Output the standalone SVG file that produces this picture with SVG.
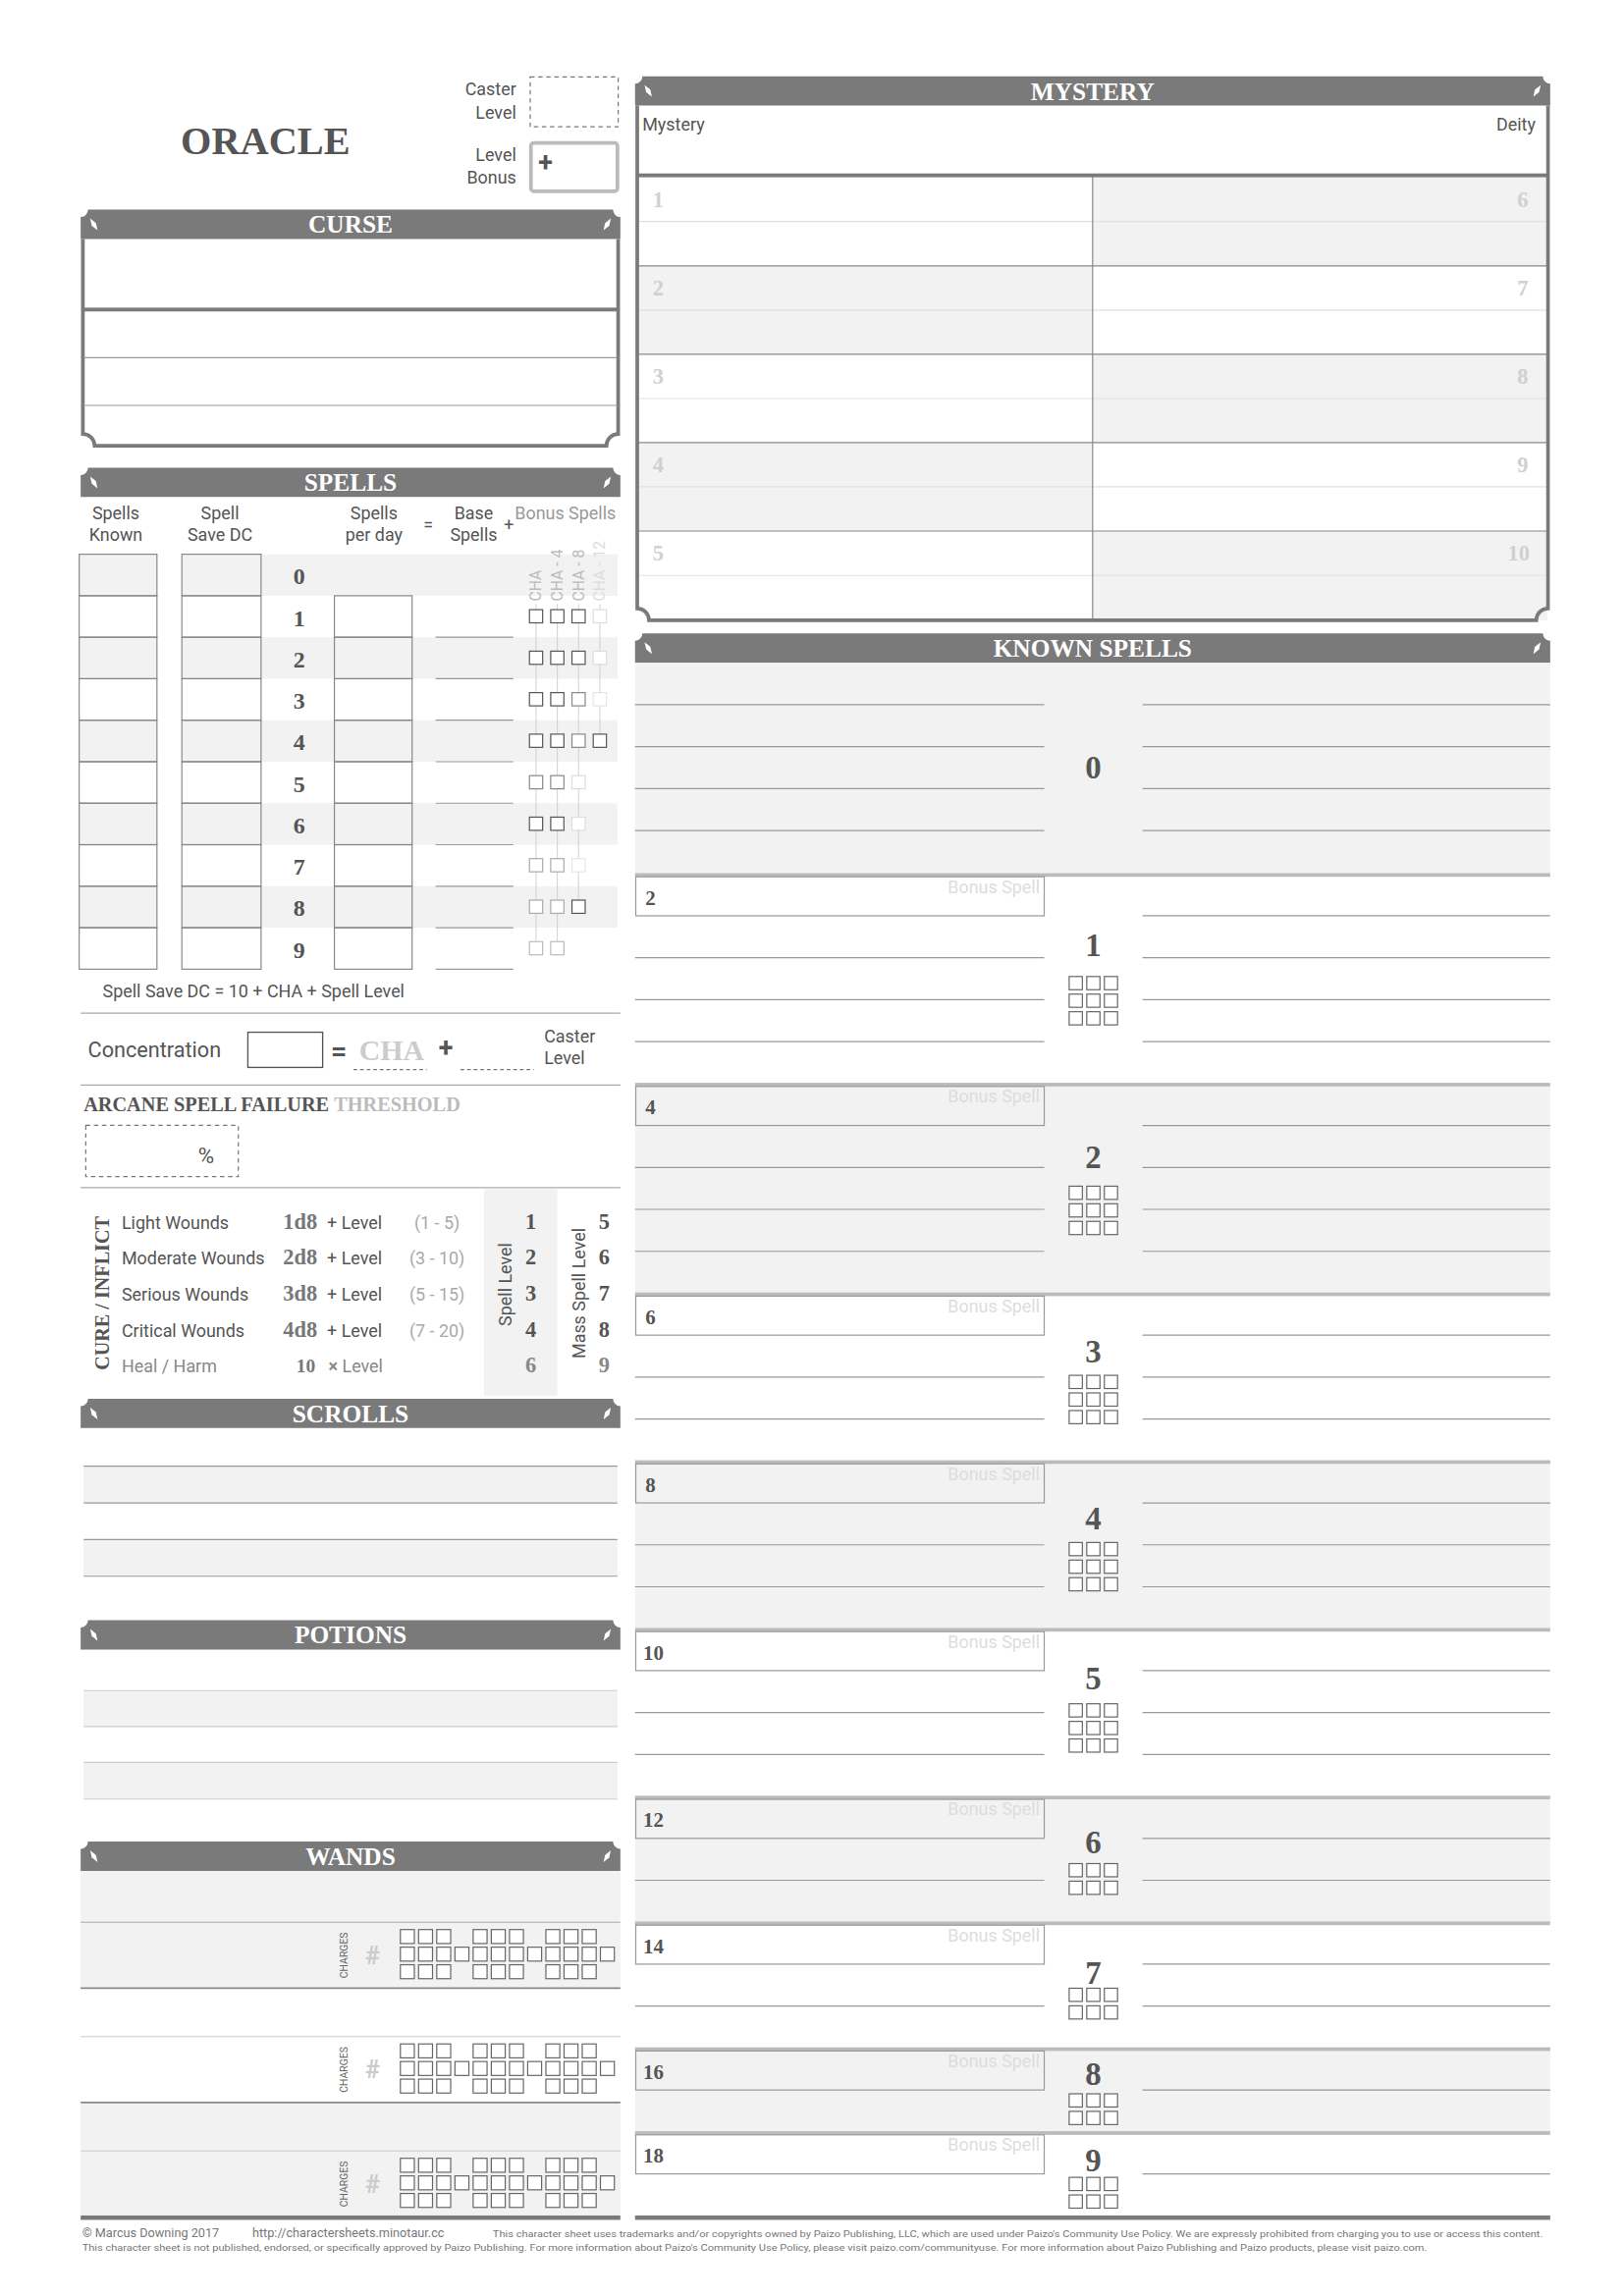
<svg xmlns="http://www.w3.org/2000/svg" width="1654" height="2339" viewBox="0 0 1654 2339">
<style>
.band{fill:#7a7a7a}
.ht{font-family:"Liberation Serif","DejaVu Serif",serif;font-weight:bold;font-size:17px;fill:#fff;text-anchor:middle}
.s{font-family:Roboto,"Liberation Sans",sans-serif;font-size:12px;fill:#555}
.sr{font-family:"Liberation Serif","DejaVu Serif",serif;font-weight:bold;fill:#555}
.g{fill:#f2f2f2}
.ln{stroke:#999;stroke-width:0.8;fill:none}
.lnl{stroke:#ccc;stroke-width:0.8;fill:none}
.cell{fill:none;stroke:#888;stroke-width:0.8}
.bx{fill:#fff;stroke:#666;stroke-width:0.8}
.frame{fill:none;stroke:#7a7a7a;stroke-width:2.5}
.mid{text-anchor:middle}
.end{text-anchor:end}
.sep{fill:#bbb}
.num{font-size:22px;text-anchor:middle}
.lbl{font-size:14px}
.bs{font-family:Roboto,"Liberation Sans",sans-serif;font-size:12px;fill:#ddd;text-anchor:end}
.mn{font-family:"Liberation Serif","DejaVu Serif",serif;font-weight:bold;font-size:15px;fill:#d0d0d0}
</style>
<defs>
<path id="orn" d="M-2.5,-4 L1.4,-0.9 L2.5,4 L-1.4,0.9 Z" fill="#fff"/>
<g id="r3"><rect class="bx" x="0" y="0" width="9" height="9"/><rect class="bx" x="12" y="0" width="9" height="9"/><rect class="bx" x="24" y="0" width="9" height="9"/></g>
<g id="g33"><use href="#r3" y="0"/><use href="#r3" y="12"/><use href="#r3" y="24"/></g>
<g id="g32"><use href="#r3" y="0"/><use href="#r3" y="12"/></g>
<g id="ct"><rect class="bx" x="0" y="0" width="9.5" height="9.5"/><rect class="bx" x="12.4" y="0" width="9.5" height="9.5"/><rect class="bx" x="24.8" y="0" width="9.5" height="9.5"/><rect class="bx" x="49.6" y="0" width="9.5" height="9.5"/><rect class="bx" x="62" y="0" width="9.5" height="9.5"/><rect class="bx" x="74.4" y="0" width="9.5" height="9.5"/><rect class="bx" x="99.2" y="0" width="9.5" height="9.5"/><rect class="bx" x="111.6" y="0" width="9.5" height="9.5"/><rect class="bx" x="124" y="0" width="9.5" height="9.5"/></g>
<g id="charges"><use href="#ct" y="0"/><g transform="translate(0,12)"><rect class="bx" x="0" y="0" width="9.5" height="9.5"/><rect class="bx" x="12.4" y="0" width="9.5" height="9.5"/><rect class="bx" x="24.8" y="0" width="9.5" height="9.5"/><rect class="bx" x="37.2" y="0" width="9.5" height="9.5"/><rect class="bx" x="49.6" y="0" width="9.5" height="9.5"/><rect class="bx" x="62" y="0" width="9.5" height="9.5"/><rect class="bx" x="74.4" y="0" width="9.5" height="9.5"/><rect class="bx" x="86.8" y="0" width="9.5" height="9.5"/><rect class="bx" x="99.2" y="0" width="9.5" height="9.5"/><rect class="bx" x="111.6" y="0" width="9.5" height="9.5"/><rect class="bx" x="124" y="0" width="9.5" height="9.5"/><rect class="bx" x="136.4" y="0" width="9.5" height="9.5"/></g><use href="#ct" y="24"/></g>
</defs>
<rect x="0" y="0" width="1654" height="2339" fill="#fff"/>
<g transform="scale(1.4937)">

<g id="header">
<text class="sr mid" x="181" y="105" font-size="27" fill="#666">ORACLE</text>
<text class="s end" x="352" y="65">Caster</text>
<text class="s end" x="352" y="81">Level</text>
<rect x="361.5" y="52.5" width="60" height="34" fill="none" stroke="#777" stroke-width="0.8" stroke-dasharray="3,2.5"/>
<text class="s end" x="352" y="110">Level</text>
<text class="s end" x="352" y="125">Bonus</text>
<rect x="362" y="97.5" width="59" height="33" rx="2" fill="#fff" stroke="#bbb" stroke-width="2.5"/>
<text x="372" y="117" font-family="Roboto,sans-serif" font-weight="bold" font-size="18" fill="#555" text-anchor="middle">+</text>
</g>

<g id="curse">
<path class="band" d="M55,148 A5,5 0 0 0 60,143 L418,143 A5,5 0 0 0 423,148 L423,163 L55,163 Z"/>
<use href="#orn" x="64" y="153"/><use href="#orn" transform="translate(414,153) scale(-1,1)"/>
<text class="ht" x="239" y="159">CURSE</text>
<path class="frame" d="M56.5,163 L56.5,296 A8,8 0 0 1 64.5,304 L413.5,304 A8,8 0 0 1 421.5,296 L421.5,163"/>
<rect x="56" y="209.8" width="366" height="2.6" fill="#7a7a7a"/>
<line class="ln" x1="57" y1="244" x2="421" y2="244"/>
<line class="ln" x1="57" y1="276.5" x2="421" y2="276.5"/>
</g>

<g id="spells">
<path class="band" d="M55,324 A5,5 0 0 0 60,319 L418,319 A5,5 0 0 0 423,324 L423,339 L55,339 Z"/>
<use href="#orn" x="64" y="329"/><use href="#orn" transform="translate(414,329) scale(-1,1)"/>
<text class="ht" x="239" y="335">SPELLS</text>
<text class="s mid" x="79" y="354">Spells</text><text class="s mid" x="79" y="369">Known</text>
<text class="s mid" x="150" y="354">Spell</text><text class="s mid" x="150" y="369">Save DC</text>
<text class="s mid" x="255" y="354">Spells</text><text class="s mid" x="255" y="369">per day</text>
<text class="s mid" x="292" y="362">=</text>
<text class="s mid" x="323" y="354">Base</text><text class="s mid" x="323" y="369">Spells</text>
<text class="s mid" x="347" y="362">+</text>
<text class="s" x="351" y="354" style="fill:#999">Bonus Spells</text>
<g id="spell-fills">
<rect class="g" x="54" y="378" width="53" height="28.3"/><rect class="g" x="124" y="378" width="54" height="28.3"/><rect class="g" x="178" y="378" width="243" height="28.3"/>
<rect class="g" x="54" y="434.6" width="53" height="28.3"/><rect class="g" x="124" y="434.6" width="54" height="28.3"/><rect class="g" x="178" y="434.6" width="243" height="28.3"/>
<rect class="g" x="54" y="491.2" width="53" height="28.3"/><rect class="g" x="124" y="491.2" width="54" height="28.3"/><rect class="g" x="178" y="491.2" width="243" height="28.3"/>
<rect class="g" x="54" y="547.8" width="53" height="28.3"/><rect class="g" x="124" y="547.8" width="54" height="28.3"/><rect class="g" x="178" y="547.8" width="243" height="28.3"/>
<rect class="g" x="54" y="604.4" width="53" height="28.3"/><rect class="g" x="124" y="604.4" width="54" height="28.3"/><rect class="g" x="178" y="604.4" width="243" height="28.3"/>
</g>
<g id="spell-cells">
<rect class="cell" x="54" y="378" width="53" height="28.3"/><rect class="cell" x="124" y="378" width="54" height="28.3"/>
<rect class="cell" x="54" y="406.3" width="53" height="28.3"/><rect class="cell" x="124" y="406.3" width="54" height="28.3"/><rect class="cell" x="228" y="406.3" width="53" height="28.3"/>
<rect class="cell" x="54" y="434.6" width="53" height="28.3"/><rect class="cell" x="124" y="434.6" width="54" height="28.3"/><rect class="cell" x="228" y="434.6" width="53" height="28.3"/>
<rect class="cell" x="54" y="462.9" width="53" height="28.3"/><rect class="cell" x="124" y="462.9" width="54" height="28.3"/><rect class="cell" x="228" y="462.9" width="53" height="28.3"/>
<rect class="cell" x="54" y="491.2" width="53" height="28.3"/><rect class="cell" x="124" y="491.2" width="54" height="28.3"/><rect class="cell" x="228" y="491.2" width="53" height="28.3"/>
<rect class="cell" x="54" y="519.5" width="53" height="28.3"/><rect class="cell" x="124" y="519.5" width="54" height="28.3"/><rect class="cell" x="228" y="519.5" width="53" height="28.3"/>
<rect class="cell" x="54" y="547.8" width="53" height="28.3"/><rect class="cell" x="124" y="547.8" width="54" height="28.3"/><rect class="cell" x="228" y="547.8" width="53" height="28.3"/>
<rect class="cell" x="54" y="576.1" width="53" height="28.3"/><rect class="cell" x="124" y="576.1" width="54" height="28.3"/><rect class="cell" x="228" y="576.1" width="53" height="28.3"/>
<rect class="cell" x="54" y="604.4" width="53" height="28.3"/><rect class="cell" x="124" y="604.4" width="54" height="28.3"/><rect class="cell" x="228" y="604.4" width="53" height="28.3"/>
<rect class="cell" x="54" y="632.7" width="53" height="28.3"/><rect class="cell" x="124" y="632.7" width="54" height="28.3"/><rect class="cell" x="228" y="632.7" width="53" height="28.3"/>
</g>
<g id="base-lines" class="ln">
<line x1="297" y1="434.6" x2="350" y2="434.6"/><line x1="297" y1="462.9" x2="350" y2="462.9"/><line x1="297" y1="491.2" x2="350" y2="491.2"/><line x1="297" y1="519.5" x2="350" y2="519.5"/><line x1="297" y1="547.8" x2="350" y2="547.8"/><line x1="297" y1="576.1" x2="350" y2="576.1"/><line x1="297" y1="604.4" x2="350" y2="604.4"/><line x1="297" y1="632.7" x2="350" y2="632.7"/><line x1="297" y1="661" x2="350" y2="661"/>
</g>
<g id="row-numbers" class="sr" font-size="16" text-anchor="middle">
<text x="204" y="398.5">0</text><text x="204" y="426.8">1</text><text x="204" y="455.1">2</text><text x="204" y="483.4">3</text><text x="204" y="511.7">4</text><text x="204" y="540">5</text><text x="204" y="568.3">6</text><text x="204" y="596.6">7</text><text x="204" y="624.9">8</text><text x="204" y="653.2">9</text>
</g>
<g id="bonus-cols">
<g font-family="Roboto,'Liberation Sans',sans-serif" font-size="10.5" fill="#bbb">
<text x="369.2" y="410" transform="rotate(-90 369.2 410)">CHA</text>
<text x="383.7" y="410" transform="rotate(-90 383.7 410)">CHA - 4</text>
<text x="398.2" y="410" transform="rotate(-90 398.2 410)">CHA - 8</text>
<text x="412.7" y="410" transform="rotate(-90 412.7 410)" fill="#ddd">CHA - 12</text>
</g>
<g stroke="#ccc" stroke-width="0.6">
<line x1="365.5" y1="412" x2="365.5" y2="651"/><line x1="380" y1="412" x2="380" y2="651"/><line x1="394.5" y1="412" x2="394.5" y2="623"/><line x1="409" y1="412" x2="409" y2="510"/>
</g>
<g fill="#fff" stroke-width="0.8">
<rect x="361" y="415.8" width="9" height="9" stroke="#555"/><rect x="375.5" y="415.8" width="9" height="9" stroke="#555"/><rect x="390" y="415.8" width="9" height="9" stroke="#555"/><rect x="404.5" y="415.8" width="9" height="9" stroke="#ddd"/>
<rect x="361" y="444.1" width="9" height="9" stroke="#555"/><rect x="375.5" y="444.1" width="9" height="9" stroke="#555"/><rect x="390" y="444.1" width="9" height="9" stroke="#555"/><rect x="404.5" y="444.1" width="9" height="9" stroke="#ddd"/>
<rect x="361" y="472.4" width="9" height="9" stroke="#555"/><rect x="375.5" y="472.4" width="9" height="9" stroke="#555"/><rect x="390" y="472.4" width="9" height="9" stroke="#888"/><rect x="404.5" y="472.4" width="9" height="9" stroke="#e6e6e6"/>
<rect x="361" y="500.7" width="9" height="9" stroke="#555"/><rect x="375.5" y="500.7" width="9" height="9" stroke="#555"/><rect x="390" y="500.7" width="9" height="9" stroke="#888"/><rect x="404.5" y="500.7" width="9" height="9" stroke="#555"/>
<rect x="361" y="529" width="9" height="9" stroke="#888"/><rect x="375.5" y="529" width="9" height="9" stroke="#888"/><rect x="390" y="529" width="9" height="9" stroke="#ddd"/>
<rect x="361" y="557.3" width="9" height="9" stroke="#555"/><rect x="375.5" y="557.3" width="9" height="9" stroke="#555"/><rect x="390" y="557.3" width="9" height="9" stroke="#ddd"/>
<rect x="361" y="585.6" width="9" height="9" stroke="#aaa"/><rect x="375.5" y="585.6" width="9" height="9" stroke="#aaa"/><rect x="390" y="585.6" width="9" height="9" stroke="#e6e6e6"/>
<rect x="361" y="613.9" width="9" height="9" stroke="#aaa"/><rect x="375.5" y="613.9" width="9" height="9" stroke="#aaa"/><rect x="390" y="613.9" width="9" height="9" stroke="#555"/>
<rect x="361" y="642.2" width="9" height="9" stroke="#bbb"/><rect x="375.5" y="642.2" width="9" height="9" stroke="#bbb"/>
</g>
</g>
<text class="s" x="70" y="680">Spell Save DC = 10 + CHA + Spell Level</text>
<line x1="55" y1="691" x2="423" y2="691" stroke="#aaa" stroke-width="0.8"/>
</g>

<g id="concentration">
<text class="s" x="60" y="721" style="font-size:14.5px">Concentration</text>
<rect x="169" y="704" width="51" height="24" fill="#fff" stroke="#555" stroke-width="0.9"/>
<text x="231" y="723" font-family="Roboto,sans-serif" font-weight="bold" font-size="19" fill="#555" text-anchor="middle">=</text>
<text class="sr mid" x="267" y="723" font-size="20" style="fill:#ccc">CHA</text>
<line x1="241" y1="729.5" x2="291" y2="729.5" stroke="#777" stroke-width="0.8" stroke-dasharray="2.5,2"/>
<text x="304" y="721" font-family="Roboto,sans-serif" font-weight="bold" font-size="18" fill="#555" text-anchor="middle">+</text>
<line x1="314" y1="729.5" x2="364" y2="729.5" stroke="#777" stroke-width="0.8" stroke-dasharray="2.5,2"/>
<text class="s" x="371" y="711">Caster</text>
<text class="s" x="371" y="726">Level</text>
<line x1="55" y1="740" x2="423" y2="740" stroke="#aaa" stroke-width="0.8"/>
</g>

<g id="asf">
<text class="sr" x="57" y="758" font-size="13.6">ARCANE SPELL FAILURE <tspan style="fill:#bbb">THRESHOLD</tspan></text>
<rect x="58.5" y="767.5" width="104" height="35" fill="none" stroke="#777" stroke-width="0.8" stroke-dasharray="3,2.5"/>
<text class="s end" x="146" y="793" style="font-size:15px">%</text>
<line x1="55" y1="810" x2="423" y2="810" stroke="#aaa" stroke-width="0.8"/>
</g>

<g id="cure">
<rect class="g" x="330" y="811" width="50" height="141"/>
<text class="sr mid" x="74" y="882" font-size="13.5" transform="rotate(-90 74 882)">CURE / INFLICT</text>
<text class="s mid" x="348.5" y="876" transform="rotate(-90 348.5 876)">Spell Level</text>
<text class="s mid" x="399" y="882" transform="rotate(-90 399 882)">Mass Spell Level</text>
<text class="s" x="83" y="838">Light Wounds</text>
<text class="s" x="83" y="862">Moderate Wounds</text>
<text class="s" x="83" y="887">Serious Wounds</text>
<text class="s" x="83" y="912">Critical Wounds</text>
<text class="s" x="83" y="936" style="fill:#888">Heal / Harm</text>
<g class="sr" font-size="15" style="fill:#777">
<text x="193" y="838">1d8</text><text x="193" y="862">2d8</text><text x="193" y="887">3d8</text><text x="193" y="912">4d8</text><text x="202" y="936" font-size="13">10</text>
</g>
<text class="s" x="223" y="838">+ Level</text>
<text class="s" x="223" y="862">+ Level</text>
<text class="s" x="223" y="887">+ Level</text>
<text class="s" x="223" y="912">+ Level</text>
<text class="s" x="224" y="936" style="fill:#888"><tspan font-weight="bold">×</tspan> Level</text>
<g class="s mid" style="fill:#aaa">
<text x="298" y="838">(1 - 5)</text><text x="298" y="862">(3 - 10)</text><text x="298" y="887">(5 - 15)</text><text x="298" y="912">(7 - 20)</text>
</g>
<g class="sr mid" font-size="15">
<text x="362" y="838">1</text><text x="362" y="862">2</text><text x="362" y="887">3</text><text x="362" y="912">4</text><text x="362" y="936" style="fill:#888">6</text>
<text x="412" y="838">5</text><text x="412" y="862">6</text><text x="412" y="887">7</text><text x="412" y="912">8</text><text x="412" y="936" style="fill:#888">9</text>
</g>
</g>

<g id="scrolls">
<path class="band" d="M55,959 A5,5 0 0 0 60,954 L418,954 A5,5 0 0 0 423,959 L423,974 L55,974 Z"/>
<use href="#orn" x="64" y="964"/><use href="#orn" transform="translate(414,964) scale(-1,1)"/>
<text class="ht" x="239" y="970">SCROLLS</text>
<rect class="g" x="57" y="1000" width="364" height="25"/>
<rect class="g" x="57" y="1050" width="364" height="25"/>
<g class="ln"><line x1="57" y1="1000" x2="421" y2="1000"/><line x1="57" y1="1025" x2="421" y2="1025"/><line x1="57" y1="1050" x2="421" y2="1050"/><line x1="57" y1="1075" x2="421" y2="1075"/></g>
</g>

<g id="potions">
<path class="band" d="M55,1110 A5,5 0 0 0 60,1105 L418,1105 A5,5 0 0 0 423,1110 L423,1125 L55,1125 Z"/>
<use href="#orn" x="64" y="1115"/><use href="#orn" transform="translate(414,1115) scale(-1,1)"/>
<text class="ht" x="239" y="1121">POTIONS</text>
<rect class="g" x="57" y="1153" width="364" height="24.5"/>
<rect class="g" x="57" y="1202" width="364" height="25"/>
<g class="lnl"><line x1="57" y1="1153" x2="421" y2="1153"/><line x1="57" y1="1177.5" x2="421" y2="1177.5"/><line x1="57" y1="1202" x2="421" y2="1202"/><line x1="57" y1="1227" x2="421" y2="1227"/></g>
</g>

<g id="wands">
<path class="band" d="M55,1261 A5,5 0 0 0 60,1256 L418,1256 A5,5 0 0 0 423,1261 L423,1276 L55,1276 Z"/>
<use href="#orn" x="64" y="1266"/><use href="#orn" transform="translate(414,1266) scale(-1,1)"/>
<text class="ht" x="239" y="1272">WANDS</text>
<rect class="g" x="55" y="1276" width="368" height="80"/>
<rect class="g" x="55" y="1434.5" width="368" height="77"/>
<line x1="55" y1="1311" x2="423" y2="1311" stroke="#aaa" stroke-width="0.8"/>
<line x1="55" y1="1356" x2="423" y2="1356" stroke="#888" stroke-width="1.2"/>
<line x1="55" y1="1389" x2="423" y2="1389" stroke="#ccc" stroke-width="0.8"/>
<line x1="55" y1="1434" x2="423" y2="1434" stroke="#888" stroke-width="1.2"/>
<line x1="55" y1="1467" x2="423" y2="1467" stroke="#ccc" stroke-width="0.8"/>
<g font-family="Roboto,'Liberation Sans',sans-serif" font-size="7" fill="#666" text-anchor="middle">
<text x="237" y="1333.5" transform="rotate(-90 237 1333.5)">CHARGES</text>
<text x="237" y="1411.5" transform="rotate(-90 237 1411.5)">CHARGES</text>
<text x="237" y="1489.5" transform="rotate(-90 237 1489.5)">CHARGES</text>
</g>
<g font-family="Roboto,'Liberation Sans',sans-serif" font-weight="bold" font-size="17" fill="#ccc" text-anchor="middle">
<text x="254" y="1339.5">#</text><text x="254" y="1417.5">#</text><text x="254" y="1495.5">#</text>
</g>
<use href="#charges" x="273" y="1316"/>
<use href="#charges" x="273" y="1394"/>
<use href="#charges" x="273" y="1472"/>
</g>

<g id="mystery">
<path class="band" d="M433,57 A5,5 0 0 0 438,52 L1052,52 A5,5 0 0 0 1057,57 L1057,72 L433,72 Z"/>
<use href="#orn" x="442" y="62"/><use href="#orn" transform="translate(1048,62) scale(-1,1)"/>
<text class="ht" x="745" y="68">MYSTERY</text>
<text class="s" x="438" y="89">Mystery</text>
<text class="s end" x="1047" y="89">Deity</text>
<rect class="g" x="435" y="181.3" width="310" height="60.3"/>
<rect class="g" x="435" y="301.9" width="310" height="60.3"/>
<rect class="g" x="745" y="121" width="310" height="60.3"/>
<rect class="g" x="745" y="241.6" width="310" height="60.3"/>
<rect class="g" x="745" y="362.2" width="310" height="60.8"/>
<g stroke="#e0e0e0" stroke-width="0.8">
<line x1="435" y1="151" x2="1055" y2="151"/><line x1="435" y1="211.5" x2="1055" y2="211.5"/><line x1="435" y1="271.8" x2="1055" y2="271.8"/><line x1="435" y1="332" x2="1055" y2="332"/><line x1="435" y1="392.5" x2="1055" y2="392.5"/>
</g>
<g stroke="#888" stroke-width="0.8">
<line x1="435" y1="181.3" x2="1055" y2="181.3"/><line x1="435" y1="241.6" x2="1055" y2="241.6"/><line x1="435" y1="301.9" x2="1055" y2="301.9"/><line x1="435" y1="362.2" x2="1055" y2="362.2"/>
<line x1="745" y1="120" x2="745" y2="422"/>
</g>
<rect x="434" y="118.3" width="622" height="2.6" fill="#7a7a7a"/>
<path class="frame" d="M434.5,72 L434.5,415 A8,8 0 0 1 442.5,423 L1047.5,423 A8,8 0 0 1 1055.5,415 L1055.5,72"/>
<text class="mn" x="445" y="141">1</text><text class="mn" x="445" y="201.3">2</text><text class="mn" x="445" y="261.6">3</text><text class="mn" x="445" y="321.9">4</text><text class="mn" x="445" y="382.2">5</text>
<g class="mn end"><text x="1042" y="141">6</text><text x="1042" y="201.3">7</text><text x="1042" y="261.6">8</text><text x="1042" y="321.9">9</text><text x="1043" y="382.2">10</text></g>
</g>

<g id="known-spells">
<path class="band" d="M433,437 A5,5 0 0 0 438,432 L1052,432 A5,5 0 0 0 1057,437 L1057,452 L433,452 Z"/>
<use href="#orn" x="442" y="442"/><use href="#orn" transform="translate(1048,442) scale(-1,1)"/>
<text class="ht" x="745" y="448">KNOWN SPELLS</text>
<g id="ks-fills">
<rect class="g" x="433" y="452" width="624" height="144"/>
<rect class="g" x="433" y="739" width="624" height="143"/>
<rect class="g" x="433" y="996.4" width="624" height="114.4"/>
<rect class="g" x="433" y="1225.2" width="624" height="85.8"/>
<rect class="g" x="433" y="1396.8" width="624" height="57.2"/>
</g>
<g id="ks-seps" class="sep">
<rect x="433" y="595.5" width="624" height="2.5"/><rect x="433" y="738.5" width="624" height="2.5"/><rect x="433" y="881.5" width="624" height="2.5"/><rect x="433" y="995.9" width="624" height="2.5"/><rect x="433" y="1110.3" width="624" height="2.5"/><rect x="433" y="1224.7" width="624" height="2.5"/><rect x="433" y="1310.5" width="624" height="2.5"/><rect x="433" y="1396.3" width="624" height="2.5"/><rect x="433" y="1453.5" width="624" height="2.5"/>
</g>
<g id="ks-boxes" stroke="#999" stroke-width="0.8">
<rect x="433.5" y="598" width="278.5" height="26.6" fill="#fff"/>
<rect x="433.5" y="741" width="278.5" height="26.6" fill="#f2f2f2"/>
<rect x="433.5" y="884" width="278.5" height="26.6" fill="#fff"/>
<rect x="433.5" y="998.4" width="278.5" height="26.6" fill="#f2f2f2"/>
<rect x="433.5" y="1112.8" width="278.5" height="26.6" fill="#fff"/>
<rect x="433.5" y="1227.2" width="278.5" height="26.6" fill="#f2f2f2"/>
<rect x="433.5" y="1313" width="278.5" height="26.6" fill="#fff"/>
<rect x="433.5" y="1398.8" width="278.5" height="26.6" fill="#f2f2f2"/>
<rect x="433.5" y="1456" width="278.5" height="26.6" fill="#fff"/>
</g>
<g class="sr lbl">
<text x="440" y="617">2</text><text x="440" y="760">4</text><text x="440" y="903">6</text><text x="440" y="1017.4">8</text><text x="438.5" y="1131.8">10</text><text x="438.5" y="1246.2">12</text><text x="438.5" y="1332">14</text><text x="438.5" y="1417.8">16</text><text x="438.5" y="1475">18</text>
</g>
<g class="bs">
<text x="709" y="609">Bonus Spell</text><text x="709" y="752">Bonus Spell</text><text x="709" y="895">Bonus Spell</text><text x="709" y="1009.4">Bonus Spell</text><text x="709" y="1123.8">Bonus Spell</text><text x="709" y="1238.2">Bonus Spell</text><text x="709" y="1324">Bonus Spell</text><text x="709" y="1409.8">Bonus Spell</text><text x="709" y="1467">Bonus Spell</text>
</g>
<g id="ks-lines" class="ln">
<line x1="433" y1="480.6" x2="712" y2="480.6"/><line x1="433" y1="509.2" x2="712" y2="509.2"/><line x1="433" y1="537.8" x2="712" y2="537.8"/><line x1="433" y1="566.4" x2="712" y2="566.4"/>
<line x1="779" y1="480.6" x2="1057" y2="480.6"/><line x1="779" y1="509.2" x2="1057" y2="509.2"/><line x1="779" y1="537.8" x2="1057" y2="537.8"/><line x1="779" y1="566.4" x2="1057" y2="566.4"/>
<line x1="433" y1="653.2" x2="712" y2="653.2"/><line x1="433" y1="681.8" x2="712" y2="681.8"/><line x1="433" y1="710.4" x2="712" y2="710.4"/>
<line x1="779" y1="624.6" x2="1057" y2="624.6"/><line x1="779" y1="653.2" x2="1057" y2="653.2"/><line x1="779" y1="681.8" x2="1057" y2="681.8"/><line x1="779" y1="710.4" x2="1057" y2="710.4"/>
<line x1="433" y1="796.2" x2="712" y2="796.2"/><line x1="433" y1="824.8" x2="712" y2="824.8"/><line x1="433" y1="853.4" x2="712" y2="853.4"/>
<line x1="779" y1="767.6" x2="1057" y2="767.6"/><line x1="779" y1="796.2" x2="1057" y2="796.2"/><line x1="779" y1="824.8" x2="1057" y2="824.8"/><line x1="779" y1="853.4" x2="1057" y2="853.4"/>
<line x1="433" y1="939.2" x2="712" y2="939.2"/><line x1="433" y1="967.8" x2="712" y2="967.8"/>
<line x1="779" y1="910.6" x2="1057" y2="910.6"/><line x1="779" y1="939.2" x2="1057" y2="939.2"/><line x1="779" y1="967.8" x2="1057" y2="967.8"/>
<line x1="433" y1="1053.6" x2="712" y2="1053.6"/><line x1="433" y1="1082.2" x2="712" y2="1082.2"/>
<line x1="779" y1="1025" x2="1057" y2="1025"/><line x1="779" y1="1053.6" x2="1057" y2="1053.6"/><line x1="779" y1="1082.2" x2="1057" y2="1082.2"/>
<line x1="433" y1="1168" x2="712" y2="1168"/><line x1="433" y1="1196.6" x2="712" y2="1196.6"/>
<line x1="779" y1="1139.4" x2="1057" y2="1139.4"/><line x1="779" y1="1168" x2="1057" y2="1168"/><line x1="779" y1="1196.6" x2="1057" y2="1196.6"/>
<line x1="433" y1="1282.4" x2="712" y2="1282.4"/>
<line x1="779" y1="1253.8" x2="1057" y2="1253.8"/><line x1="779" y1="1282.4" x2="1057" y2="1282.4"/>
<line x1="433" y1="1368.2" x2="712" y2="1368.2"/>
<line x1="779" y1="1339.6" x2="1057" y2="1339.6"/><line x1="779" y1="1368.2" x2="1057" y2="1368.2"/>
<line x1="779" y1="1425.4" x2="1057" y2="1425.4"/>
<line x1="779" y1="1482.6" x2="1057" y2="1482.6"/>
</g>
<g class="sr num">
<text x="745.5" y="531">0</text><text x="745.5" y="652">1</text><text x="745.5" y="797">2</text><text x="745.5" y="929">3</text><text x="745.5" y="1043">4</text><text x="745.5" y="1152">5</text><text x="745.5" y="1264">6</text><text x="745.5" y="1353">7</text><text x="745.5" y="1422">8</text><text x="745.5" y="1481">9</text>
</g>
<use href="#g33" x="729" y="666"/>
<use href="#g33" x="729" y="809"/>
<use href="#g33" x="729" y="938"/>
<use href="#g33" x="729" y="1052"/>
<use href="#g33" x="729" y="1162"/>
<use href="#g32" x="729" y="1271"/>
<use href="#g32" x="729" y="1356"/>
<use href="#g32" x="729" y="1428"/>
<use href="#g32" x="729" y="1485"/>
</g>

<g id="footer">
<rect x="55" y="1511" width="368" height="3" fill="#7a7a7a"/>
<rect x="433" y="1511" width="624" height="3" fill="#7a7a7a"/>
<g font-family="Roboto,'Liberation Sans',sans-serif" fill="#777">
<text x="56" y="1526" font-size="8.5">© Marcus Downing 2017</text>
<text x="172" y="1526" font-size="8.5">http://charactersheets.minotaur.cc</text>
<text x="336" y="1526" font-size="6.3" textLength="716" lengthAdjust="spacingAndGlyphs">This character sheet uses trademarks and/or copyrights owned by Paizo Publishing, LLC, which are used under Paizo's Community Use Policy. We are expressly prohibited from charging you to use or access this content.</text>
<text x="56" y="1535" font-size="6.3" textLength="917" lengthAdjust="spacingAndGlyphs">This character sheet is not published, endorsed, or specifically approved by Paizo Publishing. For more information about Paizo's Community Use Policy, please visit paizo.com/communityuse. For more information about Paizo Publishing and Paizo products, please visit paizo.com.</text>
</g>
</g>

</g>
</svg>
